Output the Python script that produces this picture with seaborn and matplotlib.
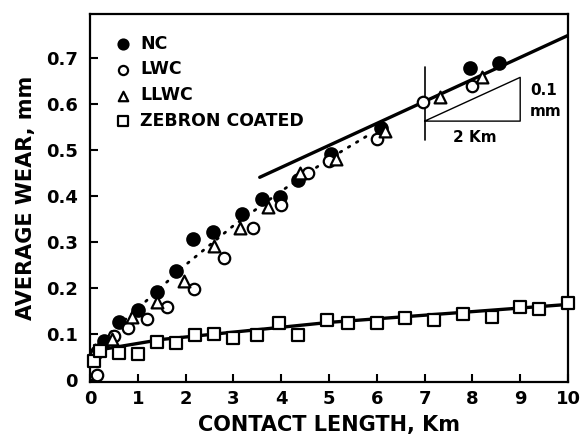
"""
Average wear vs contact length for NC, LWC, LLWC and Zebron coated samples.
"""

import matplotlib
matplotlib.use("Agg")
import matplotlib.pyplot as plt
import seaborn as sns
import pandas as pd

# ---- data ----
nc_x = [0.15, 0.3, 0.6, 1.0, 1.4, 1.8, 2.16, 2.57, 3.18, 3.6, 3.97, 4.35, 5.05, 6.08, 7.95, 8.56]
nc_y = [0.06, 0.085, 0.125, 0.152, 0.19, 0.236, 0.305, 0.322, 0.36, 0.393, 0.397, 0.435, 0.49, 0.546, 0.678, 0.688]

lwc_x = [0.15, 0.5, 0.8, 1.2, 1.62, 2.17, 2.8, 3.4, 4.0, 4.55, 5.0, 6.0, 6.97, 8.0]
lwc_y = [0.01, 0.095, 0.113, 0.132, 0.158, 0.198, 0.265, 0.33, 0.38, 0.45, 0.475, 0.523, 0.603, 0.638]

llwc_x = [0.1, 0.45, 0.88, 1.4, 1.97, 2.6, 3.14, 3.72, 4.4, 5.15, 6.17, 7.32, 8.2]
llwc_y = [0.065, 0.09, 0.137, 0.17, 0.215, 0.29, 0.33, 0.375, 0.45, 0.48, 0.54, 0.614, 0.657]

zeb_x = [0.08, 0.2, 0.6, 1.0, 1.4, 1.8, 2.2, 2.6, 3.0, 3.5, 3.95, 4.35, 4.95, 5.4, 6.0,
         6.6, 7.2, 7.8, 8.4, 9.0, 9.4, 10.0]
zeb_y = [0.042, 0.062, 0.058, 0.056, 0.083, 0.08, 0.098, 0.1, 0.092, 0.097, 0.124, 0.097,
         0.13, 0.124, 0.124, 0.134, 0.13, 0.143, 0.137, 0.158, 0.154, 0.167]

# fitted lines
fit_x = [3.55, 10.0]
fit_y = [0.44, 0.748]
dot_x = [0.0, 0.5, 1.0, 2.0, 3.0, 4.0, 5.0, 5.8]
dot_y = [0.06, 0.11, 0.155, 0.25, 0.335, 0.41, 0.48, 0.53]
zfit_x = [0.0, 1.5, 5.0, 10.0]
zfit_y = [0.062, 0.088, 0.125, 0.164]

# slope triangle: 0.1 mm per 2 Km
tri_x = [7.0, 9.0, 9.0, 7.0]
tri_y = [0.562, 0.562, 0.657, 0.562]

x_ticks = list(range(0, 11))
y_ticks = [0, 0.1, 0.2, 0.3, 0.4, 0.5, 0.6, 0.7]
y_tick_labels = ["0", "0.1", "0.2", "0.3", "0.4", "0.5", "0.6", "0.7"]

series = [
    ("NC", nc_x, nc_y, "o", "black", 80),
    ("LWC", lwc_x, lwc_y, "o", "white", 68),
    ("LLWC", llwc_x, llwc_y, "^", "white", 72),
    ("ZEBRON COATED", zeb_x, zeb_y, "s", "white", 66),
]


def main() -> None:
    sns.set_style("ticks")
    plt.rcParams["font.family"] = ["DejaVu Sans"]
    plt.rcParams["font.weight"] = "bold"
    for key in ["text.color", "axes.labelcolor", "xtick.color", "ytick.color", "axes.edgecolor"]:
        plt.rcParams[key] = "black"

    fig = plt.figure(figsize=(5.81, 4.45), dpi=100)
    ax = fig.add_axes([0.155, 0.142, 0.8226, 0.827])

    # lines first, markers drawn on top
    sns.lineplot(x=fit_x, y=fit_y, ax=ax, color="black", lw=2.4, zorder=2)
    sns.lineplot(x=zfit_x, y=zfit_y, ax=ax, color="black", lw=2.4, zorder=2)
    sns.lineplot(x=dot_x, y=dot_y, ax=ax, color="black", lw=2.0, zorder=2,
                 linestyle=(0, (0.6, 2.8)), dash_capstyle="round")
    ax.plot(tri_x, tri_y, color="black", lw=1.0, zorder=2)
    ax.plot([7.0, 7.0], [0.52, 0.68], color="black", lw=1.2, zorder=2)

    for name, xs, ys, mk, fc, s in series:
        df = pd.DataFrame({"x": xs, "y": ys})
        sns.scatterplot(data=df, x="x", y="y", ax=ax, marker=mk, color=fc,
                        edgecolor="black", linewidth=1.6, s=s, label=name,
                        zorder=3, clip_on=False)

    ax.text(9.2, 0.628, "0.1", fontsize=11, ha="left", va="center")
    ax.text(9.2, 0.583, "mm", fontsize=11, ha="left", va="center")
    ax.text(8.05, 0.527, "2 Km", fontsize=11, ha="center", va="center")

    ax.set_xlim(0, 10)
    ax.set_ylim(-0.004, 0.795)
    ax.set_xticks(x_ticks)
    ax.set_yticks(y_ticks)
    ax.set_yticklabels(y_tick_labels)
    ax.tick_params(direction="in", length=6, width=1.5, labelsize=13)
    ax.tick_params(axis="y", pad=9)
    ax.tick_params(axis="x", pad=6)
    for sp in ax.spines.values():
        sp.set_linewidth(1.6)
        sp.set_visible(True)

    ax.set_xlabel("CONTACT LENGTH, Km", fontsize=15, fontweight="bold", labelpad=5)
    ax.set_ylabel("AVERAGE WEAR, mm", fontsize=15, fontweight="bold", labelpad=7)

    ax.legend(loc="upper left", bbox_to_anchor=(0.03, 0.972), frameon=False,
              fontsize=12.5, handletextpad=0.45, labelspacing=0.45,
              markerscale=0.8, borderaxespad=0.2, handlelength=1.0)

    fig.savefig("out.png", dpi=100)


if __name__ == "__main__":
    main()
